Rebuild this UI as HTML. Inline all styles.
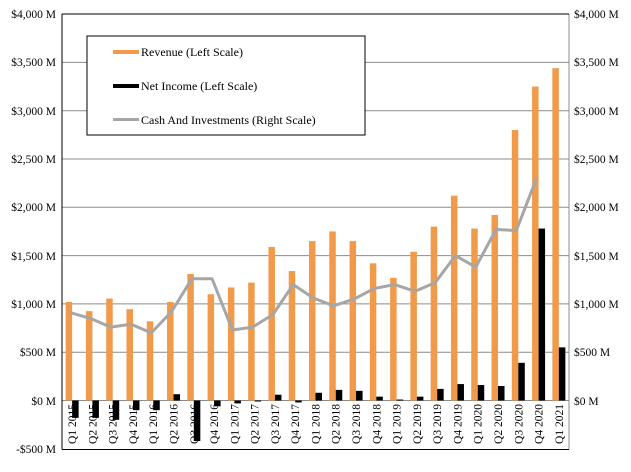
<!DOCTYPE html>
<html><head><meta charset="utf-8"><style>
html,body{margin:0;padding:0;background:#fff;}
svg{display:block;font-family:"Liberation Serif",serif;}
</style></head><body>
<svg id="s" width="631" height="472" viewBox="0 0 631 472" xmlns="http://www.w3.org/2000/svg">
<rect width="631" height="472" fill="#fff"/>
<g id="grid" stroke="#8c8c8c" stroke-width="1"></g>
<g id="bars"></g>
<polyline id="cash" fill="none" stroke="#a6a6a6" stroke-width="3" stroke-linejoin="round"/>
<line x1="62" y1="14" x2="62" y2="449.5" stroke="#000" stroke-width="1"/>
<line x1="569" y1="14" x2="569" y2="449.5" stroke="#8c8c8c" stroke-width="1"/>
<line x1="62" y1="14" x2="569" y2="14" stroke="#000" stroke-width="1"/>
<line x1="62" y1="449.5" x2="569" y2="449.5" stroke="#000" stroke-width="1"/>
<g font-size="11.5" fill="#000" text-anchor="end">
<text x="56" y="18">$4,000 M</text>
<text x="56" y="66">$3,500 M</text>
<text x="56" y="115">$3,000 M</text>
<text x="56" y="163">$2,500 M</text>
<text x="56" y="211">$2,000 M</text>
<text x="56" y="260">$1,500 M</text>
<text x="56" y="308">$1,000 M</text>
<text x="56" y="356">$500 M</text>
<text x="56" y="405">$0 M</text>
<text x="56" y="453">-$500 M</text>
</g>
<g font-size="11.5" fill="#000" text-anchor="start">
<text x="574" y="18">$4,000 M</text>
<text x="574" y="66">$3,500 M</text>
<text x="574" y="115">$3,000 M</text>
<text x="574" y="163">$2,500 M</text>
<text x="574" y="211">$2,000 M</text>
<text x="574" y="260">$1,500 M</text>
<text x="574" y="308">$1,000 M</text>
<text x="574" y="356">$500 M</text>
<text x="574" y="405">$0 M</text>
</g>
<g font-size="11.5" fill="#000" text-anchor="end">
<text transform="translate(76.1,404) rotate(-90)">Q1 2015</text>
<text transform="translate(96.4,404) rotate(-90)">Q2 2015</text>
<text transform="translate(116.7,404) rotate(-90)">Q3 2015</text>
<text transform="translate(136.9,404) rotate(-90)">Q4 2015</text>
<text transform="translate(157.2,404) rotate(-90)">Q1 2016</text>
<text transform="translate(177.5,404) rotate(-90)">Q2 2016</text>
<text transform="translate(197.8,404) rotate(-90)">Q3 2016</text>
<text transform="translate(218.1,404) rotate(-90)">Q4 2016</text>
<text transform="translate(238.3,404) rotate(-90)">Q1 2017</text>
<text transform="translate(258.6,404) rotate(-90)">Q2 2017</text>
<text transform="translate(278.9,404) rotate(-90)">Q3 2017</text>
<text transform="translate(299.2,404) rotate(-90)">Q4 2017</text>
<text transform="translate(319.5,404) rotate(-90)">Q1 2018</text>
<text transform="translate(339.7,404) rotate(-90)">Q2 2018</text>
<text transform="translate(360.0,404) rotate(-90)">Q3 2018</text>
<text transform="translate(380.3,404) rotate(-90)">Q4 2018</text>
<text transform="translate(400.6,404) rotate(-90)">Q1 2019</text>
<text transform="translate(420.9,404) rotate(-90)">Q2 2019</text>
<text transform="translate(441.1,404) rotate(-90)">Q3 2019</text>
<text transform="translate(461.4,404) rotate(-90)">Q4 2019</text>
<text transform="translate(481.7,404) rotate(-90)">Q1 2020</text>
<text transform="translate(502.0,404) rotate(-90)">Q2 2020</text>
<text transform="translate(522.3,404) rotate(-90)">Q3 2020</text>
<text transform="translate(542.5,404) rotate(-90)">Q4 2020</text>
<text transform="translate(562.8,404) rotate(-90)">Q1 2021</text>
</g>
<rect x="87" y="36" width="278" height="99" fill="#fff" stroke="#000" stroke-width="1"/>
<rect x="113" y="50" width="26" height="4" fill="#f09a4a"/>
<rect x="113" y="84" width="26" height="4" fill="#000"/>
<rect x="113" y="118" width="26" height="3" fill="#a6a6a6"/>
<g font-size="12" fill="#000">
<text x="141" y="56">Revenue (Left Scale)</text>
<text x="141" y="90">Net Income (Left Scale)</text>
<text x="141" y="124">Cash And Investments (Right Scale)</text>
</g>
</svg>
<script>
(function(){
var ns="http://www.w3.org/2000/svg";
function Y(v){return 400.5-v*0.0966;}
var W=507/25;
function cx(i){return 62+W*(i+0.5);}
var g=document.getElementById("grid");
for(var k=1;k<=7;k++){var y=Y(k*500);var l=document.createElementNS(ns,"line");l.setAttribute("x1",62);l.setAttribute("x2",569);l.setAttribute("y1",y);l.setAttribute("y2",y);g.appendChild(l);}
var z=document.createElementNS(ns,"line");z.setAttribute("x1",62);z.setAttribute("x2",569);z.setAttribute("y1",Y(0));z.setAttribute("y2",Y(0));g.appendChild(z);
var rev=[1020,925,1055,945,820,1020,1310,1100,1170,1220,1590,1340,1650,1750,1650,1420,1270,1540,1800,2120,1780,1920,2800,3250,3440];
var ni=[-180,-180,-200,-100,-100,65,-420,-60,-30,-10,60,-20,80,110,100,40,10,40,120,170,160,150,390,1780,550];
var cash=[910,850,760,790,700,920,1260,1260,730,760,890,1200,1060,980,1050,1160,1200,1130,1220,1500,1380,1770,1760,2300];
var b=document.getElementById("bars");
for(var i=0;i<25;i++){
 var c=cx(i);
 var r=document.createElementNS(ns,"rect");r.setAttribute("x",c-6.5);r.setAttribute("width",6.5);
 r.setAttribute("y",Y(rev[i]));r.setAttribute("height",Y(0)-Y(rev[i]));r.setAttribute("fill","#f09a4a");b.appendChild(r);
 var n=document.createElementNS(ns,"rect");n.setAttribute("x",c);n.setAttribute("width",6.5);
 var v=ni[i];var y1=Math.min(Y(v),Y(0)),h=Math.abs(Y(v)-Y(0));
 n.setAttribute("y",y1);n.setAttribute("height",Math.max(h,1));n.setAttribute("fill","#000");b.appendChild(n);
}
var pts=[];for(var j=0;j<cash.length;j++){pts.push((cx(j)-2)+","+Y(cash[j]));}
document.getElementById("cash").setAttribute("points",pts.join(" "));
})();
</script>
</body></html>
